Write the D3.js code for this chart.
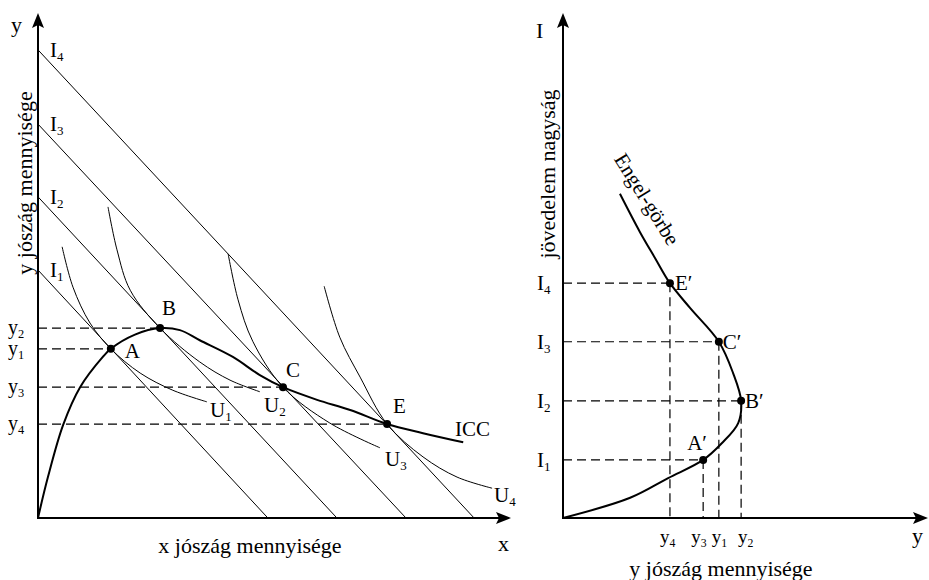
<!DOCTYPE html>
<html lang="hu">
<head>
    <meta charset="UTF-8">
    <title>Jövedelem-fogyasztás görbe és Engel-görbe</title>
    <script src="https://d3js.org/d3.v7.min.js"></script>
    <style>
        body { margin: 0; background: #fff; }
        svg { font-family: "Liberation Serif", "Times New Roman", serif; }
        text { fill: #000; }
    </style>
</head>
<body>
<svg width="929" height="580"></svg>

<script>
    // bal oldali ábra: költségvetési egyenesek (tengelymetszetek)
    const budgetNames = ["1", "2", "3", "4"];
    const budgetYInt = [49.1, 63.6, 78.0, 92.7];
    const budgetXInt = [48.6, 63.2, 77.8, 92.2];

    // optimumpontok
    const pointNames = ["A", "B", "C", "E"];
    const pointX = [15.4, 25.8, 51.8, 73.8];
    const pointY = [33.5, 37.6, 25.9, 18.6];
    const pointYNames = ["1", "2", "3", "4"];

    // ICC görbe
    const icc = [[0, 0], [2.1, 8.1], [5.3, 18.4], [8.9, 25.9], [13.7, 31.9], [15.4, 33.5],
        [20.5, 36.3], [25.8, 37.6], [30, 37.2], [34.2, 35.2], [41.2, 31.9], [46.9, 28.3],
        [51.8, 25.9], [59.0, 23.4], [66.0, 21.4], [73.8, 18.6], [81.4, 16.8], [89.9, 15.0]];

    // közömbösségi görbék
    const u1 = [[5.1, 53.7], [7.4, 45.7], [11.0, 38.6], [15.4, 33.5], [21.6, 28.7], [28.5, 25.3], [35.7, 23.0]];
    const u2 = [[14.8, 61.6], [16.7, 53.1], [19.5, 45.1], [25.8, 37.6], [34.2, 30.9], [40.6, 27.3], [46.9, 25.0]];
    const u3 = [[40.2, 52.3], [42.3, 43.2], [45.4, 35.0], [51.8, 25.9], [61.7, 18.8], [72.3, 13.9]];
    const u4 = [[60.5, 45.9], [63.8, 35.8], [68.1, 27.9], [73.8, 18.6], [81.4, 12.1], [88.6, 8.1], [96.0, 5.9]];
    const uNames = ["1", "2", "3", "4"];

    // jobb oldali ábra: Engel-görbe
    const engel = [[15.6, 64.2], [21.1, 56.6], [25.2, 51.5], [29.3, 46.5], [34.8, 41.6], [42.7, 34.9],
        [46.6, 28.7], [48.8, 23.2], [48.0, 18.8], [43.5, 14.8], [38.4, 11.5], [28.8, 7.9], [18.4, 4.0], [0, 0]];
    const engelNames = ["E′", "C′", "B′", "A′"];
    const incomeNames = ["4", "3", "2", "1"];
    const incomeLevels = [46.5, 34.9, 23.2, 11.5];
    const engelQty = [29.3, 42.7, 48.8, 38.4];
    const qtyNames = ["4", "1", "2", "3"];

    const svg = d3.select("svg");

    const xL = d3.scaleLinear().domain([0, 100]).range([38, 511]);
    const yL = d3.scaleLinear().domain([0, 100]).range([518, 13]);
    const xR = d3.scaleLinear().domain([0, 100]).range([563, 928]);
    const yR = d3.scaleLinear().domain([0, 100]).range([518, 13]);

    const dash = "9,5";

    // felirat alsó indexszel
    function subLabel(g, x, y, main, sub, size, anchor) {
        const t = g.append("text")
            .attr("x", x).attr("y", y)
            .attr("font-size", size)
            .attr("text-anchor", anchor || "start");
        t.append("tspan").text(main);
        t.append("tspan").attr("font-size", size * 0.62).attr("dy", 4).text(sub);
        return t;
    }

    function arrowUp(x, y) {
        svg.append("path")
            .attr("d", "M" + x + "," + y + "L" + (x - 6) + "," + (y + 15) + "L" + x + "," + (y + 12) + "L" + (x + 6) + "," + (y + 15) + "Z")
            .attr("fill", "#000");
    }

    function arrowRight(x, y) {
        svg.append("path")
            .attr("d", "M" + x + "," + y + "L" + (x - 15) + "," + (y - 6) + "L" + (x - 12) + "," + y + "L" + (x - 15) + "," + (y + 6) + "Z")
            .attr("fill", "#000");
    }

    // ---------- bal ábra ----------
    const left = svg.append("g");

    // szaggatott vonalak y1..y4
    left.selectAll(".hdash")
        .data(pointNames)
        .enter()
        .append("line")
        .attr("x1", xL(0))
        .attr("x2", (d, i) => xL(pointX[i]))
        .attr("y1", (d, i) => yL(pointY[i]))
        .attr("y2", (d, i) => yL(pointY[i]))
        .attr("stroke", "#000")
        .attr("stroke-width", 1.2)
        .attr("stroke-dasharray", dash);

    // költségvetési egyenesek
    left.selectAll(".budget")
        .data(budgetNames)
        .enter()
        .append("line")
        .attr("x1", xL(0))
        .attr("y1", (d, i) => yL(budgetYInt[i]))
        .attr("x2", (d, i) => xL(budgetXInt[i]))
        .attr("y2", yL(0))
        .attr("stroke", "#000")
        .attr("stroke-width", 1);

    budgetNames.forEach(function (n, i) {
        subLabel(left, xL(0) + 12, yL(budgetYInt[i]) + 7, "I", n, 21);
    });

    // közömbösségi görbék
    const curveLine = d3.line()
        .x(d => xL(d[0]))
        .y(d => yL(d[1]))
        .curve(d3.curveCatmullRom.alpha(0.5));

    [u1, u2, u3, u4].forEach(function (u) {
        left.append("path")
            .attr("d", curveLine(u))
            .attr("fill", "none")
            .attr("stroke", "#000")
            .attr("stroke-width", 1);
    });

    const uLabelPos = [[210, 417], [264, 412], [385, 466], [494, 502]];
    uNames.forEach(function (n, i) {
        subLabel(left, uLabelPos[i][0], uLabelPos[i][1], "U", n, 21);
    });

    // ICC
    left.append("path")
        .attr("d", curveLine(icc))
        .attr("fill", "none")
        .attr("stroke", "#000")
        .attr("stroke-width", 2);

    left.append("text")
        .attr("x", 455).attr("y", 436)
        .attr("font-size", 21)
        .text("ICC");

    // pontok
    left.selectAll(".pt")
        .data(pointNames)
        .enter()
        .append("circle")
        .attr("cx", (d, i) => xL(pointX[i]))
        .attr("cy", (d, i) => yL(pointY[i]))
        .attr("r", 4)
        .attr("fill", "#000");

    const ptOffset = [[14, 9], [2, -13], [3, -10], [6, -11]];
    left.selectAll(".ptlabel")
        .data(pointNames)
        .enter()
        .append("text")
        .attr("x", (d, i) => xL(pointX[i]) + ptOffset[i][0])
        .attr("y", (d, i) => yL(pointY[i]) + ptOffset[i][1])
        .attr("font-size", 21)
        .text(d => d);

    // y1..y4 feliratok
    pointYNames.forEach(function (n, i) {
        subLabel(left, 8, yL(pointY[i]) + 6, "y", n, 20);
    });

    // tengelyek
    left.append("line")
        .attr("x1", xL(0)).attr("y1", yL(0))
        .attr("x2", xL(0)).attr("y2", yL(100) + 6)
        .attr("stroke", "#000").attr("stroke-width", 2);
    left.append("line")
        .attr("x1", xL(0) - 1).attr("y1", yL(0))
        .attr("x2", xL(100) - 6).attr("y2", yL(0))
        .attr("stroke", "#000").attr("stroke-width", 2);
    arrowUp(xL(0), yL(100));
    arrowRight(xL(100), yL(0));

    left.append("text").attr("x", 11).attr("y", 32).attr("font-size", 22).text("y");
    left.append("text").attr("x", 498).attr("y", 551).attr("font-size", 22).text("x");
    left.append("text")
        .attr("x", 250).attr("y", 553)
        .attr("font-size", 22)
        .attr("text-anchor", "middle")
        .text("x jószág mennyisége");
    left.append("text")
        .attr("transform", "translate(32,183) rotate(-90)")
        .attr("font-size", 22)
        .attr("text-anchor", "middle")
        .text("y jószág mennyisége");

    // ---------- jobb ábra ----------
    const right = svg.append("g");

    right.selectAll(".hd")
        .data(engelNames)
        .enter()
        .append("line")
        .attr("x1", xR(0))
        .attr("x2", (d, i) => xR(engelQty[i]))
        .attr("y1", (d, i) => yR(incomeLevels[i]))
        .attr("y2", (d, i) => yR(incomeLevels[i]))
        .attr("stroke", "#000").attr("stroke-width", 1.2)
        .attr("stroke-dasharray", dash);

    right.selectAll(".vd")
        .data(engelNames)
        .enter()
        .append("line")
        .attr("x1", (d, i) => xR(engelQty[i]))
        .attr("x2", (d, i) => xR(engelQty[i]))
        .attr("y1", (d, i) => yR(incomeLevels[i]))
        .attr("y2", yR(0))
        .attr("stroke", "#000").attr("stroke-width", 1.2)
        .attr("stroke-dasharray", dash);

    const engelLine = d3.line()
        .x(d => xR(d[0]))
        .y(d => yR(d[1]))
        .curve(d3.curveCatmullRom.alpha(0.5));

    right.append("path")
        .attr("d", engelLine(engel))
        .attr("fill", "none")
        .attr("stroke", "#000")
        .attr("stroke-width", 2);

    right.selectAll(".ept")
        .data(engelNames)
        .enter()
        .append("circle")
        .attr("cx", (d, i) => xR(engelQty[i]))
        .attr("cy", (d, i) => yR(incomeLevels[i]))
        .attr("r", 4)
        .attr("fill", "#000");

    const eOffset = [[5, 7], [4, 7], [4, 7], [-16, -10]];
    right.selectAll(".eptlabel")
        .data(engelNames)
        .enter()
        .append("text")
        .attr("x", (d, i) => xR(engelQty[i]) + eOffset[i][0])
        .attr("y", (d, i) => yR(incomeLevels[i]) + eOffset[i][1])
        .attr("font-size", 21)
        .text(d => d);

    incomeNames.forEach(function (n, i) {
        subLabel(right, 537, yR(incomeLevels[i]) + 7, "I", n, 21);
    });

    // y4, y1, y2, y3 – az Engel-pontok sorrendjében (E', C', B', A')
    const qtyStart = [-10, -7, -3, -12];
    qtyNames.forEach(function (n, i) {
        subLabel(right, xR(engelQty[i]) + qtyStart[i], 543, "y", n, 19);
    });

    right.append("text")
        .attr("transform", "translate(641,203) rotate(58)")
        .attr("font-size", 21)
        .attr("text-anchor", "middle")
        .text("Engel-görbe");

    right.append("line")
        .attr("x1", xR(0)).attr("y1", yR(0))
        .attr("x2", xR(0)).attr("y2", yR(100) + 6)
        .attr("stroke", "#000").attr("stroke-width", 2);
    right.append("line")
        .attr("x1", xR(0) - 1).attr("y1", yR(0))
        .attr("x2", xR(100) - 6).attr("y2", yR(0))
        .attr("stroke", "#000").attr("stroke-width", 2);
    arrowUp(xR(0), yR(100));
    arrowRight(xR(100), yR(0));

    right.append("text").attr("x", 536).attr("y", 38).attr("font-size", 22).text("I");
    right.append("text").attr("x", 912).attr("y", 543).attr("font-size", 22).text("y");
    right.append("text")
        .attr("x", 721).attr("y", 576)
        .attr("font-size", 22)
        .attr("text-anchor", "middle")
        .text("y jószág mennyisége");
    right.append("text")
        .attr("transform", "translate(555,174) rotate(-90)")
        .attr("font-size", 22)
        .attr("text-anchor", "middle")
        .text("jövedelem nagyság");
</script>
</body>
</html>
